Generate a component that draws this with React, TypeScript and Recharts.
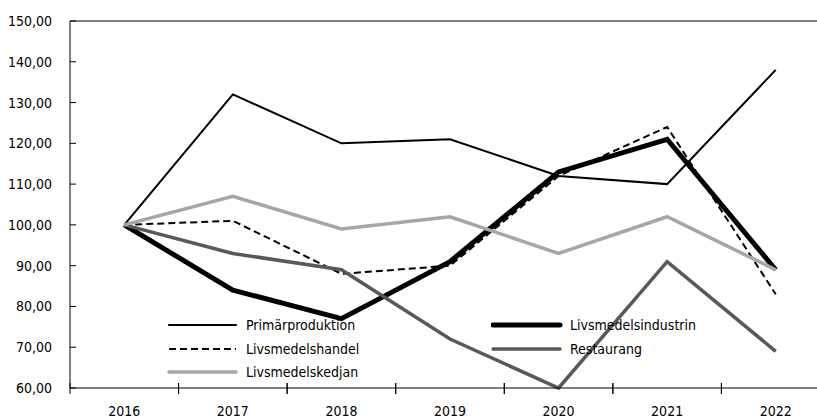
import React from 'react';
import {
  LineChart,
  Line,
  XAxis,
  YAxis,
  ReferenceLine,
} from 'recharts';

const years = ['2016', '2017', '2018', '2019', '2020', '2021', '2022'];
const primarproduktion = [100, 132, 120, 121, 112, 110, 138];
const livsmedelsindustrin = [100, 84, 77, 91, 113, 121, 89];
const livsmedelshandel = [100, 101, 88, 90, 112, 124, 83];
const restaurang = [100, 93, 89, 72, 60, 91, 69];
const livsmedelskedjan = [100, 107, 99, 102, 93, 102, 89];
const yTicks = [60, 70, 80, 90, 100, 110, 120, 130, 140, 150];

const FONT = '"DejaVu Sans Condensed", "Liberation Sans Narrow", sans-serif';

const data = years.map((year, i) => ({
  year,
  primar: primarproduktion[i],
  industri: livsmedelsindustrin[i],
  handel: livsmedelshandel[i],
  restaurang: restaurang[i],
  kedjan: livsmedelskedjan[i],
}));

const SERIES = [
  { key: 'primar', name: 'Primärproduktion', color: '#000000', width: 2, dash: undefined },
  { key: 'industri', name: 'Livsmedelsindustrin', color: '#000000', width: 5, dash: undefined },
  { key: 'handel', name: 'Livsmedelshandel', color: '#000000', width: 2, dash: '7 4' },
  { key: 'restaurang', name: 'Restaurang', color: '#595959', width: 3.5, dash: undefined },
  { key: 'kedjan', name: 'Livsmedelskedjan', color: '#a6a6a6', width: 3.5, dash: undefined },
];

const fmt = (v: number) => v.toFixed(2).replace('.', ',');

const YTick = (props: any) => {
  const { x, y, payload } = props;
  return (
    <g>
      <line x1={x + 18} x2={x + 24} y1={y} y2={y} stroke="#000" />
      <text x={x} y={y + 5} textAnchor="end" fontFamily={FONT} fontSize={14} fill="#000">
        {fmt(payload.value)}
      </text>
    </g>
  );
};

const XTick = (props: any) => {
  const { x, y, payload } = props;
  return (
    <g>
      <line x1={x - 54.25} x2={x - 54.25} y1={y - 5} y2={y + 6} stroke="#000" />
      <line x1={x + 54.25} x2={x + 54.25} y1={y - 5} y2={y + 6} stroke="#000" />
      <text x={x} y={y + 28} textAnchor="middle" fontFamily={FONT} fontSize={14} fill="#000">
        {payload.value}
      </text>
    </g>
  );
};

const LegendBox = () => (
  <div
    style={{
      position: 'absolute',
      left: 167,
      top: 313.5,
      display: 'grid',
      gridTemplateColumns: '324px 324px',
      gridAutoRows: '23.5px',
      fontFamily: FONT,
      fontSize: 14,
      color: '#000',
      pointerEvents: 'none',
    }}
  >
    {SERIES.map(s => (
      <div key={s.key} style={{ display: 'flex', alignItems: 'center' }}>
        <svg width={79} height={12} style={{ flex: 'none' }}>
          <line
            x1={2}
            x2={69}
            y1={6}
            y2={6}
            stroke={s.color}
            strokeWidth={s.width}
            strokeDasharray={s.dash}
            strokeLinecap={s.dash ? 'butt' : 'round'}
          />
        </svg>
        <span>{s.name}</span>
      </div>
    ))}
  </div>
);

export default function App() {
  return (
    <div
      style={{
        position: 'fixed',
        left: 0,
        top: 0,
        width: 817,
        height: 419,
        overflow: 'hidden',
        background: '#fff',
      }}
    >
      <LineChart
        width={830}
        height={419}
        data={data}
        margin={{ top: 21, right: 0, left: 0, bottom: 0 }}
      >
        <XAxis
          dataKey="year"
          scale="band"
          height={31}
          axisLine={{ stroke: '#000' }}
          tickLine={false}
          tickSize={0}
          tickMargin={0}
          tick={<XTick />}
          interval={0}
        />
        <YAxis
          domain={[60, 150]}
          ticks={yTicks}
          width={70}
          axisLine={{ stroke: '#000' }}
          tickLine={false}
          tickSize={0}
          tickMargin={18}
          tick={<YTick />}
          interval={0}
        />
        <ReferenceLine y={150} stroke="#000" />
        {SERIES.map(s => (
          <Line
            key={s.key}
            dataKey={s.key}
            name={s.name}
            stroke={s.color}
            strokeWidth={s.width}
            strokeDasharray={s.dash}
            dot={false}
            activeDot={false}
            isAnimationActive={false}
          />
        ))}
      </LineChart>
      <LegendBox />
    </div>
  );
}
